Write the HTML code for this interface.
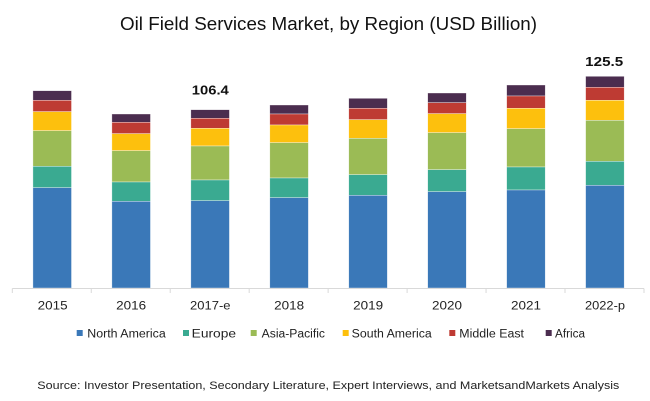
<!DOCTYPE html>
<html><head><meta charset="utf-8"><style>
html,body{margin:0;padding:0;background:#fff;}
svg{display:block;}
text{font-family:"Liberation Sans",Arial,sans-serif;}
</style></head><body>
<svg width="650" height="401" viewBox="0 0 650 401" xmlns="http://www.w3.org/2000/svg">
<rect width="650" height="401" fill="#fff"/>
<text x="120" y="30" font-size="18" fill="#111" textLength="417" lengthAdjust="spacingAndGlyphs">Oil Field Services Market, by Region (USD Billion)</text>
<g id="bars" stroke="#ffffff" stroke-width="0.6" stroke-opacity="0.6"></g>
<line x1="12.3" y1="288.5" x2="644" y2="288.5" stroke="#d9d9d9" stroke-width="1"/>
<g stroke="#d9d9d9" stroke-width="1" id="ticks"></g>
<g font-size="12" fill="#222" text-anchor="middle">
<text x="52.7" y="309.3" textLength="30" lengthAdjust="spacingAndGlyphs">2015</text>
<text x="131.2" y="309.3" textLength="30" lengthAdjust="spacingAndGlyphs">2016</text>
<text x="210.3" y="309.3" textLength="40.5" lengthAdjust="spacingAndGlyphs">2017-e</text>
<text x="289.1" y="309.3" textLength="30" lengthAdjust="spacingAndGlyphs">2018</text>
<text x="368.1" y="309.3" textLength="30" lengthAdjust="spacingAndGlyphs">2019</text>
<text x="447" y="309.3" textLength="30" lengthAdjust="spacingAndGlyphs">2020</text>
<text x="526" y="309.3" textLength="30" lengthAdjust="spacingAndGlyphs">2021</text>
<text x="605" y="309.3" textLength="40" lengthAdjust="spacingAndGlyphs">2022-p</text>
</g>
<g font-size="13" font-weight="bold" fill="#111" text-anchor="middle">
<text x="210.3" y="94.5" textLength="37" lengthAdjust="spacingAndGlyphs">106.4</text>
<text x="604.2" y="66" textLength="38" lengthAdjust="spacingAndGlyphs">125.5</text>
</g>
<g font-size="11.5" fill="#222">
<rect x="76.7" y="330" width="6" height="6" fill="#3a78b8"/>
<text x="87.3" y="337.3" textLength="78.4" lengthAdjust="spacingAndGlyphs">North America</text>
<rect x="183" y="330" width="6" height="6" fill="#3aaa91"/>
<text x="191.7" y="337.3" textLength="44.3" lengthAdjust="spacingAndGlyphs">Europe</text>
<rect x="250.7" y="330" width="6" height="6" fill="#9bbb55"/>
<text x="261.7" y="337.3" textLength="63.3" lengthAdjust="spacingAndGlyphs">Asia-Pacific</text>
<rect x="342.7" y="330" width="6" height="6" fill="#fdc00d"/>
<text x="351.7" y="337.3" textLength="80" lengthAdjust="spacingAndGlyphs">South America</text>
<rect x="449.3" y="330" width="6" height="6" fill="#be3b33"/>
<text x="459.3" y="337.3" textLength="64.7" lengthAdjust="spacingAndGlyphs">Middle East</text>
<rect x="545.7" y="330" width="6" height="6" fill="#4b2d4f"/>
<text x="555" y="337.3" textLength="30" lengthAdjust="spacingAndGlyphs">Africa</text>
</g>
<text x="37.3" y="389" font-size="11" fill="#222" textLength="582" lengthAdjust="spacingAndGlyphs">Source: Investor Presentation, Secondary Literature, Expert Interviews, and MarketsandMarkets Analysis</text>
<script>
(function(){
var ns="http://www.w3.org/2000/svg";
var data=[
[90.7,100.3,111.7,130.7,166.3,187.7],
[114,122.3,133.7,150.7,182,201.3],
[109.7,118.3,128.3,146,180,200.7],
[105,114,125,142.7,178,197.7],
[98.3,108.3,119.7,138.3,174.7,195.3],
[93,102.7,113.7,132.7,169.7,191.7],
[85,96,108.3,128.7,167,190],
[76.3,87.3,100.3,120.3,161.3,185.3]];
var cols=["#4b2d4f","#be3b33","#fdc00d","#9bbb55","#3aaa91","#3a78b8"];
var g=document.getElementById("bars");
var bottom=288;
for(var i=0;i<8;i++){
 var c=52.2+78.96*i, w=38.6, x=c-w/2;
 var b=data[i];
 for(var k=0;k<6;k++){
  var y1=b[k], y2=(k<5)?b[k+1]:bottom;
  var r=document.createElementNS(ns,"rect");
  r.setAttribute("x",x.toFixed(2));
  r.setAttribute("y",y1);
  r.setAttribute("width",w);
  r.setAttribute("height",(y2-y1).toFixed(2));
  r.setAttribute("fill",cols[k]);
  g.appendChild(r);
 }
}
var t=document.getElementById("ticks");
for(var j=0;j<=8;j++){
 var tx=12.3+78.96*j;
 var l=document.createElementNS(ns,"line");
 l.setAttribute("x1",tx);l.setAttribute("x2",tx);
 l.setAttribute("y1",288.5);l.setAttribute("y2",293);
 t.appendChild(l);
}
})();
</script>
</svg>
</body></html>
